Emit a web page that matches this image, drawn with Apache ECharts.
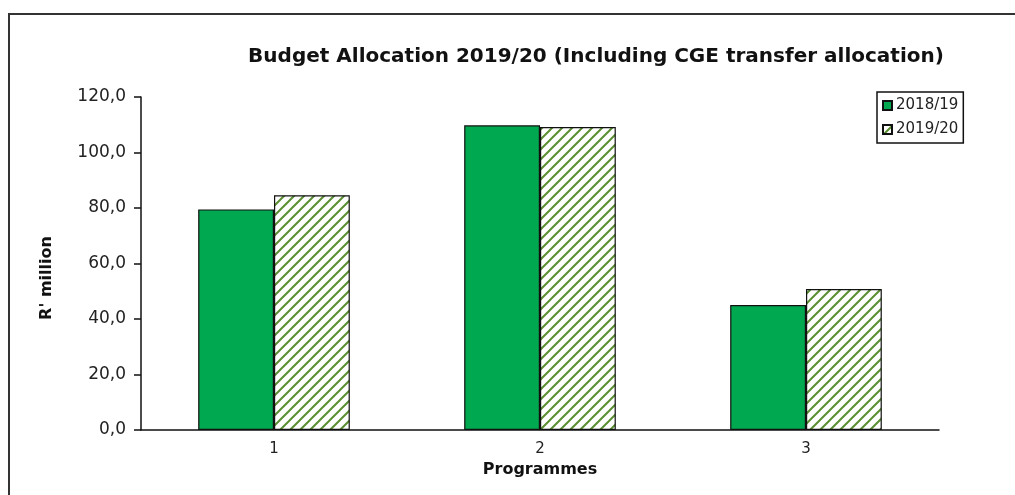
<!DOCTYPE html>
<html>
<head>
<meta charset="utf-8">
<script src="https://cdn.jsdelivr.net/npm/echarts@6/dist/echarts.min.js"></script>
<style>
html,body{margin:0;padding:0;background:#fff;}
#c{width:1015px;height:495px;}
</style>
</head>
<body>
<div id="c"></div>
<script>
const categories = ['1', '2', '3'];
const seriesNames = ['2018/19', '2019/20'];
const values2018 = [79.5, 109.8, 45.0];
const values2019 = [84.6, 109.2, 50.8];
const yTicks = { min: 0, max: 120, interval: 20 };

function hatch() {
  const s = 10;
  const c = document.createElement('canvas');
  c.width = s; c.height = s;
  const g = c.getContext('2d');
  g.fillStyle = '#ffffff';
  g.fillRect(0, 0, s, s);
  g.strokeStyle = '#5a8f32';
  g.lineWidth = 2.0;
  g.beginPath();
  g.moveTo(-2, s + 2); g.lineTo(s + 2, -2);
  g.moveTo(-2, 2); g.lineTo(2, -2);
  g.moveTo(s - 2, s + 2); g.lineTo(s + 2, s - 2);
  g.stroke();
  return c;
}

const chart = echarts.init(document.getElementById('c'), null, { renderer: 'canvas' });
const font = 'DejaVu Sans, Liberation Sans, sans-serif';
chart.setOption({
  animation: false,
  backgroundColor: '#fff',
  textStyle: { fontFamily: font },
  title: {
    text: 'Budget Allocation 2019/20 (Including CGE transfer allocation)',
    left: 591, top: 42, textAlign: 'center',
    textStyle: { fontFamily: font, fontWeight: 'bold', fontSize: 20, color: '#111' }
  },
  graphic: [
    {
      type: 'rect', shape: { x: 9, y: 14, width: 1020, height: 500 },
      style: { fill: 'none', stroke: '#333', lineWidth: 2 }, silent: true
    },
    {
      type: 'text', x: 47, y: 278, rotation: Math.PI / 2,
      style: {
        text: "R' million", fontFamily: font, fontWeight: 'bold', fontSize: 16,
        fill: '#111', align: 'center', verticalAlign: 'middle'
      }, silent: true
    }
  ],
  legend: {
    orient: 'vertical', left: 877, top: 92,
    icon: 'rect',
    itemWidth: 9, itemHeight: 9, itemGap: 9,
    padding: [6, 5, 6, 5],
    borderColor: '#111', borderWidth: 1.5,
    textStyle: { fontFamily: font, fontSize: 15, color: '#222', padding: [0, 0, 0, -1] },
    data: seriesNames
  },
  grid: { left: 141, top: 97, right: 76, bottom: 65 },
  xAxis: {
    type: 'category', data: categories,
    name: 'Programmes', nameLocation: 'middle', nameGap: 30,
    nameTextStyle: { fontFamily: font, fontWeight: 'bold', fontSize: 16, color: '#111' },
    axisLine: { lineStyle: { color: '#111', width: 1.5 } },
    axisTick: { length: 6, lineStyle: { color: '#111', width: 1.5 } },
    axisLabel: { fontFamily: font, fontSize: 15, color: '#222', margin: 12 }
  },
  yAxis: {
    type: 'value', min: yTicks.min, max: yTicks.max, interval: yTicks.interval,
    splitLine: { show: false },
    axisLine: { show: true, lineStyle: { color: '#111', width: 1.5 } },
    axisTick: { show: true, length: 7, lineStyle: { color: '#111', width: 1.5 } },
    axisLabel: {
      fontFamily: font, fontSize: 17, color: '#222', margin: 15,
      formatter: v => v.toFixed(1).replace('.', ',')
    }
  },
  series: [
    {
      name: seriesNames[0], type: 'bar', data: values2018,
      barGap: '0%', barCategoryGap: '43%',
      itemStyle: { color: '#00a94f', borderColor: '#111', borderWidth: 1.2 }
    },
    {
      name: seriesNames[1], type: 'bar', data: values2019,
      itemStyle: { color: { image: hatch(), repeat: 'repeat' }, borderColor: '#111', borderWidth: 1.2 }
    }
  ]
});
</script>
</body>
</html>
